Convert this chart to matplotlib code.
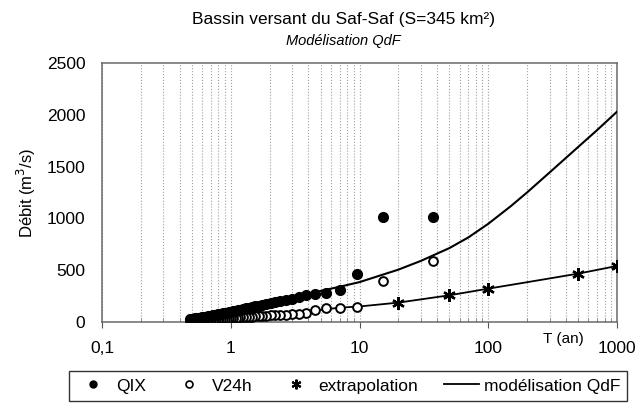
import matplotlib
matplotlib.use("Agg")
import matplotlib.pyplot as plt
from matplotlib.lines import Line2D

plt.rcParams['font.family'] = ['Liberation Sans', 'DejaVu Sans']

# ---------------- data ----------------
T_obs = [37.3, 15.3, 9.61, 7.01, 5.52, 4.55, 3.87, 3.37, 2.98, 2.67,
         2.42, 2.21, 2.04, 1.89, 1.76, 1.65, 1.55, 1.46, 1.39, 1.32,
         1.25, 1.19, 1.14, 1.09, 1.05, 1.01, 0.97, 0.935, 0.903, 0.872,
         0.844, 0.817, 0.792, 0.769, 0.747, 0.726, 0.706, 0.687, 0.669, 0.652,
         0.636, 0.621, 0.607, 0.593, 0.580, 0.567, 0.555, 0.543, 0.532, 0.521,
         0.511, 0.501, 0.492, 0.482]
QIX = [1010, 1010, 468, 306, 276, 274, 258, 242, 225, 212,
       200, 190, 180, 172, 164, 157, 150, 143, 137, 131,
       125, 119, 114, 109, 104, 99, 95, 91, 87, 83,
       80, 76, 73, 70, 67, 64, 61, 58, 56, 53,
       51, 49, 47, 45, 43, 41, 39, 37, 35, 33,
       31, 30, 28, 26]
V24h = [586, 393, 145, 138, 135, 113, 90, 81, 74, 71,
        68, 66, 63, 61, 58, 56, 54, 52, 50, 48,
        46, 44, 42, 40, 38, 36, 34, 33, 31, 30,
        29, 27, 26, 25, 24, 23, 22, 21, 20, 19,
        18, 17, 16, 15, 14, 14, 13, 12, 12, 11,
        10, 10, 9, 8]

T_extra = [20, 50, 100, 500, 1000]
Q_extra = [187, 258, 322, 467, 541]

T_model_QIX = [0.5, 1, 2, 3, 5, 7, 10, 20, 30, 50, 70, 100, 150, 200,
               300, 500, 700, 1000]
Q_model_QIX = [50, 105, 180, 235, 300, 340, 385, 505, 590, 714, 816, 948,
               1119, 1250, 1444, 1690, 1852, 2030]
T_model_V24 = [0.5, 1, 2, 3, 5, 7, 10, 20, 50, 100, 200, 500, 1000]
Q_model_V24 = [12, 35, 62, 76, 118, 138, 150, 187, 258, 322, 384, 467, 541]

xtick_vals = [0.1, 1, 10, 100, 1000]
xtick_labels = ["0,1", "1", "10", "100", "1000"]
ytick_vals = [0, 500, 1000, 1500, 2000, 2500]

# ---------------- figure ----------------
fig = plt.figure(figsize=(6.4, 4.05), dpi=100)
ax = fig.add_axes([102/640, 1-322/405, (617-102)/640, (322-63)/405])

ax.set_xscale('log')
ax.set_xlim(0.1, 1000)
ax.set_ylim(0, 2500)

ax.xaxis.grid(True, which='both', linestyle=':', color='#a0a0a0', linewidth=0.8)
ax.yaxis.grid(False)

star = (6, 2, 0)
ax.plot(T_model_QIX, Q_model_QIX, '-', color='black', lw=1.5, zorder=3)
ax.plot(T_model_V24, Q_model_V24, '-', color='black', lw=1.3, zorder=3)
ax.plot(T_obs, V24h, 'o', mfc='white', mec='black', mew=1.4, ms=6.3, zorder=4)
ax.plot(T_obs, QIX, 'o', color='black', ms=7, zorder=5)
ax.plot(T_extra, Q_extra, linestyle='none', marker=star, color='black',
        ms=9, mew=1.7, zorder=6)

for s in ax.spines.values():
    s.set_color('#6a6a6a')
    s.set_linewidth(1.1)

ax.set_xticks(xtick_vals)
ax.set_xticklabels(xtick_labels)
ax.set_yticks(ytick_vals)
ax.tick_params(axis='x', which='major', direction='out', length=4, width=0.8,
               colors='#555555', labelcolor='black', labelsize=12.5, pad=10)
ax.tick_params(axis='x', which='minor', direction='in', length=3, width=0.6,
               colors='#777777')
ax.tick_params(axis='y', length=0, labelsize=12.5, pad=12)

ax.set_ylabel("Débit (m$^3$/s)", fontsize=12, labelpad=6)

fig.text(0.536, 0.951, "Bassin versant du Saf-Saf (S=345 km²)",
         ha='center', va='center', fontsize=12.5)
fig.text(0.536, 0.898, "Modélisation QdF", ha='center', va='center',
         fontsize=10.5, style='italic')
fig.text(563/640, 1-339/405, "T (an)", ha='center', va='center', fontsize=11)

handles = [
    Line2D([], [], linestyle='none', marker='o', color='black', ms=5),
    Line2D([], [], linestyle='none', marker='o', mfc='white', mec='black', mew=1.2, ms=5),
    Line2D([], [], linestyle='none', marker=star, color='black', ms=7, mew=1.5),
    Line2D([], [], color='black', lw=1.3),
]
labels = ["QIX", "V24h", "extrapolation", "modélisation QdF"]
leg = fig.legend(handles, labels, loc='center', bbox_to_anchor=(348/640, 1-386/405),
                 ncol=4, fontsize=12.5, frameon=True, fancybox=False,
                 edgecolor='black', handlelength=2.0, handletextpad=0.3,
                 columnspacing=1.5, borderpad=0.4)
leg.get_frame().set_linewidth(1.0)

fig.savefig("out.png", dpi=100)
